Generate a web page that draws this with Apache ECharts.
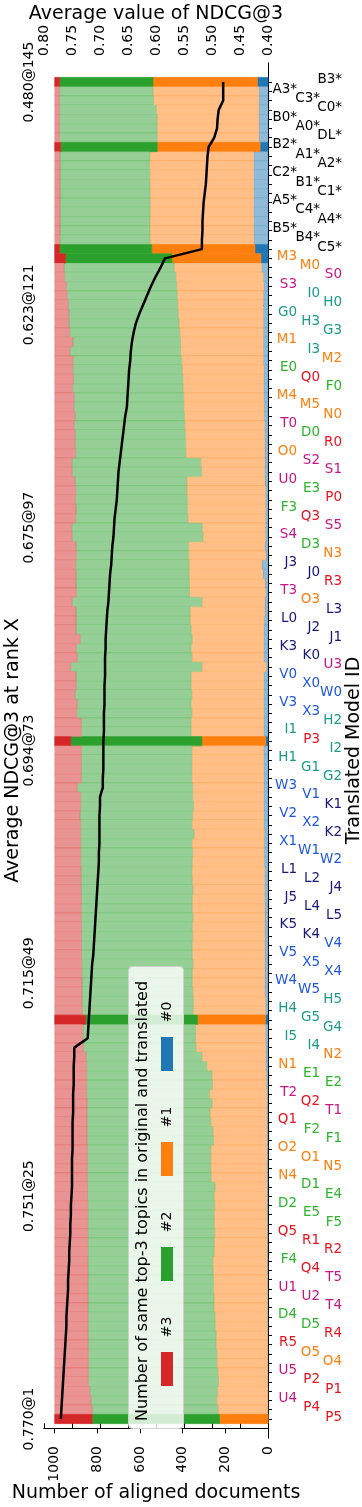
<!DOCTYPE html>
<html><head><meta charset="utf-8">
<script src="https://cdn.jsdelivr.net/npm/echarts@6/dist/echarts.min.js"></script>
<style>html,body{margin:0;padding:0;background:#fff}#c{width:362px;height:1507px}</style>
</head><body><div id="c"></div>
<script>
// Model IDs, top (rank 145) to bottom (rank 1)
const models = ["B3*","A3*","C3*","C0*","B0*","A0*","DL*","B2*","A1*","A2*","C2*","B1*","C1*","A5*","C4*","A4*","B5*","B4*","C5*",
"M3","M0","S0","S3","I0","H0","G0","H3","G3","M1",
"I3","M2","E0","Q0","F0","M4","M5","N0","T0","D0",
"R0","O0","S2","S1","U0","E3","P0","F3","Q3","S5",
"S4","D3","N3","J3","J0","R3","T3","O3","L3","L0",
"J2","J1","K3","K0","U3","V0","X0","W0","V3","X3",
"H2","I1","P3","I2","H1","G1","G2","W3","V1","K1",
"V2","X2","K2","X1","W1","W2","L1","L2","J4","J5",
"L4","L5","K5","K4","V4","V5","X5","X4","W4","W5",
"H5","H4","G5","G4","I5","I4","N2","N1","E1","E2",
"T2","Q2","T1","Q1","F2","F1","O2","O1","N5","N4",
"D1","E4","D2","E5","F5","Q5","R1","R2","F4","Q4",
"T5","U1","U2","T4","D4","D5","R4","R5","O5","O4",
"U5","P2","P1","U4","P4","P5"];
const highlighted = ["B3*","B2*","C5*","M3","P3","G5","P5"];

// Average NDCG@3 per row (top to bottom)
const ndcg = [0.480,0.480,0.480,0.488,0.490,0.491,0.496,0.506,0.508,0.509,0.510,0.511,0.513,0.515,0.516,0.517,0.517,0.518,0.518,
0.584,0.592,0.601,0.609,0.616,0.623,
0.630,0.636,0.640,0.643,0.645,0.646,0.648,0.649,0.650,0.651,0.652,
0.655,0.657,0.659,0.661,0.663,0.665,0.667,0.668,0.669,0.670,0.672,0.674,0.675,
0.676,0.678,0.679,0.680,0.682,0.683,0.684,0.685,0.687,0.688,0.689,0.690,0.690,0.691,0.691,0.691,0.692,0.692,0.692,0.693,0.693,0.693,0.694,
0.694,
0.694,0.694,0.695,0.695,0.700,0.700,0.701,0.701,0.701,0.701,0.702,0.702,0.703,0.704,0.705,0.706,0.707,0.708,0.709,0.710,0.711,0.712,0.714,
0.715,
0.716,0.717,0.718,0.719,0.720,0.721,0.722,
0.746,0.746,0.747,0.747,0.747,0.748,0.748,0.748,0.749,0.749,0.749,0.749,0.750,0.750,0.750,0.750,
0.751,
0.752,0.752,0.753,0.753,0.754,0.755,0.755,0.756,0.757,0.757,0.758,0.759,0.760,0.760,0.761,0.762,0.763,0.764,0.765,0.766,0.767,0.768,0.769,
0.770];

// Aligned documents sharing 0 / 1 / 2 / 3 of the top-3 topics (top to bottom)
const n0 = [50,43,43,42,42,42,42,37,67,67,67,67,67,67,67,67,66,66,61,
33,30,22,20,22,22,22,22,22,22,
22,22,20,20,20,20,18,18,16,16,
14,14,14,16,14,12,12,12,12,12,
12,14,10,28,24,14,12,14,14,18,
20,20,20,20,8,20,20,20,20,20,
20,20,11,20,20,20,20,20,20,20,
20,20,18,18,18,18,16,16,16,16,
14,14,14,14,14,14,14,14,14,14,
12,12,12,12,12,11,10,10,8,8,
6,6,6,6,6,6,6,6,6,6,
5,5,5,5,4,4,4,4,4,4,
3,3,3,3,3,3,2,2,2,2,
2,2,1,1,1,0];
const n1 = [489,496,494,481,478,478,478,482,486,488,487,486,486,485,485,486,487,487,484,
417,410,410,408,403,401,398,395,392,388,
388,383,382,380,378,375,377,374,374,372,
372,371,301,296,366,368,366,366,364,296,
293,358,362,342,346,354,356,296,351,347,
340,335,340,337,302,340,340,337,340,337,
340,340,299,337,337,337,337,333,333,329,
333,337,328,339,335,337,341,339,336,339,
341,338,341,339,341,341,338,341,341,338,
338,338,318,328,328,327,300,277,255,252,
268,256,266,262,252,249,262,262,262,260,
243,247,245,247,248,246,248,248,255,253,
252,252,250,250,245,244,241,241,238,238,
233,230,236,239,234,227];
const n2 = [438,439,441,455,458,458,458,453,422,420,421,422,422,423,423,422,422,423,432,
499,516,521,517,516,513,513,516,516,504,
519,508,513,512,518,513,515,513,518,517,
518,517,605,606,525,522,525,522,526,612,
613,528,526,532,530,532,530,608,535,535,
540,525,539,537,615,540,539,548,534,540,
515,515,615,518,518,518,518,541,525,529,
528,521,532,521,525,523,519,521,524,520,
520,523,519,521,519,519,521,518,517,520,
522,520,525,528,528,527,542,563,587,590,
576,586,576,580,590,593,579,579,579,581,
598,594,595,593,593,595,593,593,585,587,
589,589,591,591,595,596,600,600,602,602,
607,610,598,589,589,597];
const n3 = [23,22,22,22,22,22,22,28,25,25,25,25,25,25,25,25,25,24,23,
51,44,47,55,59,64,67,67,70,86,
71,87,85,88,84,92,90,95,92,95,
96,98,80,82,95,98,97,100,98,80,
82,100,102,98,100,100,102,82,100,100,
100,120,101,106,75,100,101,95,106,103,
125,125,75,125,125,125,125,106,122,122,
119,122,122,122,122,122,124,124,124,125,
125,125,126,126,126,126,127,127,128,128,
128,130,145,132,132,135,148,150,150,150,
150,152,152,152,152,152,153,153,153,153,
154,154,155,155,155,155,155,155,156,156,
156,156,156,156,157,157,157,157,158,158,
158,158,165,171,176,176];

const legendNames = ["#0","#1","#2","#3"];
const legendTitle = "Number of same top-3 topics in original and translated";
const docTicks = [0,200,400,600,800,1000];
const ndcgTicks = [0.40,0.45,0.50,0.55,0.60,0.65,0.70,0.75,0.80];
const rankTickValues = [1,25,49,73,97,121,145];
const rankTickLabels = ["0.770@1","0.751@25","0.715@49","0.694@73","0.675@97","0.623@121","0.480@145"];

const counts = [n0,n1,n2,n3];
const dark = ["#1f77b4","#ff7f0e","#2ca02c","#d62728"];
const light = ["#8fbbd9","#ffbf86","#95cf95","#ea9393"];
const edge = ["rgba(31,119,180,0.35)","rgba(255,127,14,0.3)","rgba(44,160,44,0.3)","rgba(214,39,40,0.3)"];
const famColors = {blk:"#000000",org:"#ff7f0e",mag:"#c71585",teal:"#1a9a8a",grn:"#2db52d",red:"#e8131f",navy:"#17177a",blue:"#1f55e0"};
const famOf = id => id.endsWith("*") ? "blk" : ({D:"grn",E:"grn",F:"grn",G:"teal",H:"teal",I:"teal",J:"navy",K:"navy",L:"navy",M:"org",N:"org",O:"org",P:"red",Q:"red",R:"red",S:"mag",T:"mag",U:"mag",V:"blue",W:"blue",X:"blue"})[id[0]];
const N = models.length;
const allRanks = models.map((m,i)=>N-i);
const colPad = [0,45,22];
const rich = {};
Object.keys(famColors).forEach(f=>{ [0,1,2].forEach(c=>{ rich[f+c] = {color:famColors[f], fontSize:13.5, fontFamily:"DejaVu Sans", padding:[0,colPad[c],4,0]}; }); });

const YMIN = -1.046, YMAX = 147.046;
const font = "DejaVu Sans";

function barSeries(k){
  const data = models.map((m,i)=>{
    let s = 0; for(let j=0;j<k;j++) s += counts[j][i];
    return [N-i, s, s+counts[k][i], highlighted.includes(m)?1:0];
  });
  return {type:"custom", name:legendNames[k], xAxisIndex:0, yAxisIndex:0, data, encode:{x:[1,2], y:0}, z:2,
    renderItem:(params, api)=>{
      const r=api.value(0), s=api.value(1), e=api.value(2), hl=api.value(3);
      const a=api.coord([s, r+0.5]), b=api.coord([e, r-0.5]);
      return {type:"rect", shape:{x:Math.min(a[0],b[0]), y:a[1], width:Math.abs(a[0]-b[0]), height:b[1]-a[1]},
        style:{fill: hl?dark[k]:light[k], stroke: hl?dark[k]:edge[k], lineWidth:0.6}};
    }};
}

// legend geometry (rotated legend drawn with graphic elements)
const legItems = [3,2,1,0].map((k,j)=>({k, patchY:1352-105*j, textY:1327-105*j}));
const legendGraphic = [
  {type:"rect", z:10, shape:{x:128.5, y:966.5, width:55, height:462, r:4}, style:{fill:"rgba(255,255,255,0.8)", stroke:"#d0d0d0", lineWidth:1}},
  {type:"text", z:11, x:143, y:1421, rotation:Math.PI/2, style:{text:legendTitle, font:"16px DejaVu Sans", fill:"#000", align:"left", verticalAlign:"middle"}}
];
legItems.forEach(it=>{
  legendGraphic.push({type:"rect", z:11, shape:{x:161, y:it.patchY, width:12, height:34}, style:{fill:dark[it.k]}});
  legendGraphic.push({type:"text", z:11, x:167, y:it.textY, rotation:Math.PI/2, style:{text:legendNames[it.k], font:"14px DejaVu Sans", fill:"#000", align:"center", verticalAlign:"middle"}});
});

const axLine = {show:true, lineStyle:{color:"#000", width:1}};
const nameStyle = {fontSize:19, color:"#000", fontFamily:font};
const chart = echarts.init(document.getElementById("c"), null, {renderer:"canvas"});
chart.setOption({
  animation:false,
  grid:{left:44, right:94, top:63, bottom:69, containLabel:false, outerBoundsMode:"none"},
  xAxis:[
    {type:"value", position:"bottom", min:0, max:1050, inverse:true, axisLine:axLine,
     axisTick:{show:true, length:5, customValues:docTicks, lineStyle:{color:"#000"}},
     axisLabel:{customValues:docTicks, rotate:90, fontSize:14, color:"#000", fontFamily:font, margin:8, formatter:v=>String(Math.round(v))},
     splitLine:{show:false}, nameMoveOverlap:false,
     name:"Number of aligned documents", nameLocation:"middle", nameGap:46, nameTextStyle:nameStyle},
    {type:"value", position:"top", min:0.4, max:0.8, inverse:true, axisLine:axLine,
     axisTick:{show:true, length:5, customValues:ndcgTicks, lineStyle:{color:"#000"}},
     axisLabel:{customValues:ndcgTicks, rotate:90, fontSize:14, color:"#000", fontFamily:font, margin:7, formatter:v=>v.toFixed(2)},
     splitLine:{show:false}, nameMoveOverlap:false,
     name:"Average value of NDCG@3", nameLocation:"middle", nameGap:39, nameTextStyle:nameStyle}
  ],
  yAxis:[
    {type:"value", position:"left", min:YMIN, max:YMAX, axisLine:axLine,
     axisTick:{show:true, length:5, customValues:rankTickValues, lineStyle:{color:"#000"}},
     axisLabel:{customValues:rankTickValues, rotate:90, fontSize:14, color:"#000", fontFamily:font, margin:8,
       formatter:v=>rankTickLabels[rankTickValues.indexOf(Math.round(v))]},
     splitLine:{show:false}, nameMoveOverlap:false,
     name:"Average NDCG@3 at rank X", nameLocation:"middle", nameRotate:90, nameGap:21, nameTextStyle:nameStyle},
    {type:"value", position:"right", min:YMIN, max:YMAX, axisLine:axLine,
     axisTick:{show:true, length:4, customValues:allRanks, lineStyle:{color:"#000"}},
     axisLabel:{customValues:allRanks, align:"right", margin:74, fontFamily:font, fontSize:13.5, rich,
       formatter:v=>{ const r=Math.round(v); const id=models[N-r]; const c=(N-r)%3; return "{"+famOf(id)+c+"|"+id+"}"; }},
     splitLine:{show:false}, nameMoveOverlap:false,
     name:"Translated Model ID", nameLocation:"middle", nameRotate:90, nameGap:77, nameTextStyle:nameStyle}
  ],
  series:[barSeries(0),barSeries(1),barSeries(2),barSeries(3),
    {type:"line", xAxisIndex:1, yAxisIndex:0, data:ndcg.map((v,i)=>[v,N-i]), showSymbol:false, symbol:"none", z:5,
     lineStyle:{color:"#000", width:2.5}}],
  graphic:legendGraphic
});
</script></body></html>
